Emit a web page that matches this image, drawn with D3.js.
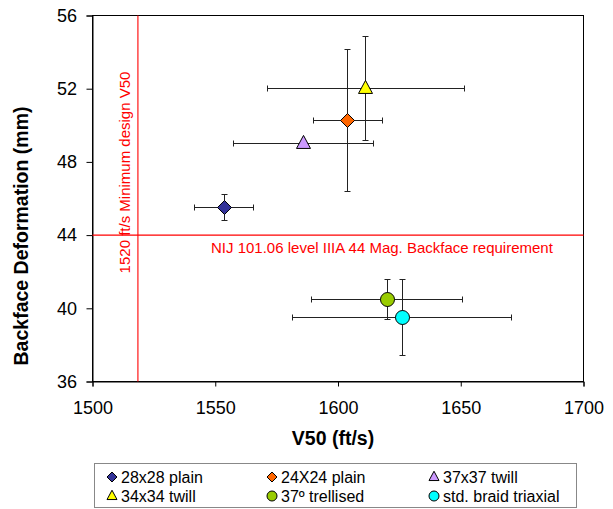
<!DOCTYPE html>
<html><head><meta charset="utf-8">
<script src="https://cdn.jsdelivr.net/npm/d3@7"></script>
<style>
html,body{margin:0;padding:0;background:#fff;}
svg{display:block;font-family:"Liberation Sans",Arial,sans-serif;}
</style></head>
<body>
<svg id="chart" width="613" height="509"></svg>
<script>
const seriesNames = ["28x28 plain","24X24 plain","37x37 twill","34x34 twill","37º trellised","std. braid triaxial"];
const v50 = [1553.6, 1604.0, 1586.0, 1611.4, 1620.0, 1626.1];
const v50Err = [12, 14, 28.5, 40, 30.8, 44.7];
const backface = [45.5, 50.25, 49.0, 52.0, 40.5, 39.5];
const backfaceErr = [0.7, 3.87, 0, 2.84, 1.1, 2.1];
const markerShapes = ["diamond","diamond","triangle","triangle","circle","circle"];
const markerColors = ["#333399","#FF6600","#CC99FF","#FFFF00","#99CC00","#00FFFF"];
const xTicks = [1500,1550,1600,1650,1700];
const yTicks = [36,40,44,48,52,56];
const minV50Line = 1518.5;
const nijReq = 44;
const xTitle = "V50 (ft/s)";
const yTitle = "Backface Deformation (mm)";
const vLabel = "1520 ft/s Minimum design V50";
const hLabel = "NIJ 101.06 level IIIA 44 Mag. Backface requirement";

const svg = d3.select("#chart");
const L = 92.5, R = 583.5, T = 15.5, B = 381.5;
const x = d3.scaleLinear().domain([1500,1700]).range([L,R]);
const y = d3.scaleLinear().domain([36,56]).range([B,T]);
const crisp = v => Math.round(v - 0.5) + 0.5;

function symbolPath(shape, size){
  if(shape==="diamond"){const h=size/2;return `M0,${-h}L${h},0L0,${h}L${-h},0Z`;}
  if(shape==="triangle"){const h=size*0.93;const w=size/2;return `M0,${-h*0.62}L${w},${h*0.38}L${-w},${h*0.38}Z`;}
  return null;
}

// frame
svg.append("rect").attr("x",L).attr("y",T).attr("width",R-L).attr("height",B-T)
  .attr("fill","none").attr("stroke","#000").attr("stroke-width",1);

// axes
const xAxis = svg.append("g").attr("transform",`translate(0,${B})`)
  .call(d3.axisBottom(x).tickValues(xTicks).tickSize(5).tickPadding(15).tickFormat(d3.format("d")));
const yAxis = svg.append("g").attr("transform",`translate(${L},0)`)
  .call(d3.axisLeft(y).tickValues(yTicks).tickSize(6).tickPadding(9.5).tickFormat(d3.format("d")));
[xAxis,yAxis].forEach(g=>{
  g.select(".domain").attr("stroke","#000");
  g.selectAll(".tick line").attr("stroke","#000");
  g.selectAll(".tick text").attr("font-size","18px").attr("fill","#000")
    .attr("font-family","'Liberation Sans',Arial,sans-serif");
});

// reference lines
const rx = x(minV50Line), ry = y(nijReq);
svg.append("line").attr("x1",rx).attr("x2",rx).attr("y1",T).attr("y2",B)
  .attr("stroke","#FF0000").attr("stroke-width",1.1);
svg.append("line").attr("x1",L).attr("x2",R).attr("y1",ry).attr("y2",ry)
  .attr("stroke","#FF0000").attr("stroke-width",1.1);
svg.append("text").attr("transform",`translate(${rx-8},${172.5}) rotate(-90)`)
  .attr("text-anchor","middle").attr("font-size","15px").attr("fill","#FF0000").text(vLabel);
svg.append("text").attr("x",211).attr("y",252.5)
  .attr("font-size","15px").attr("fill","#FF0000").text(hLabel);

// error bars
const cap = 3;
const eb = svg.append("g").attr("stroke","#222").attr("stroke-width",1).attr("fill","none");
seriesNames.forEach((n,i)=>{
  const cx=crisp(x(v50[i])), cy=crisp(y(backface[i]));
  const x0=crisp(x(v50[i]-v50Err[i])), x1=crisp(x(v50[i]+v50Err[i]));
  eb.append("line").attr("x1",x0).attr("x2",x1).attr("y1",cy).attr("y2",cy);
  eb.append("line").attr("x1",x0).attr("x2",x0).attr("y1",cy-cap).attr("y2",cy+cap);
  eb.append("line").attr("x1",x1).attr("x2",x1).attr("y1",cy-cap).attr("y2",cy+cap);
  if(backfaceErr[i]>0){
    const y0=crisp(y(backface[i]-backfaceErr[i])), y1=crisp(y(backface[i]+backfaceErr[i]));
    eb.append("line").attr("x1",cx).attr("x2",cx).attr("y1",y0).attr("y2",y1);
    eb.append("line").attr("x1",cx-cap).attr("x2",cx+cap).attr("y1",y0).attr("y2",y0);
    eb.append("line").attr("x1",cx-cap).attr("x2",cx+cap).attr("y1",y1).attr("y2",y1);
  }
});

function drawMarker(g, shape, color, cx, cy, size){
  if(shape==="circle"){
    g.append("circle").attr("cx",cx).attr("cy",cy).attr("r",size/2)
      .attr("fill",color).attr("stroke","#000").attr("stroke-width",1);
  } else {
    g.append("path").attr("d",symbolPath(shape,size)).attr("transform",`translate(${cx},${cy})`)
      .attr("fill",color).attr("stroke","#000").attr("stroke-width",1);
  }
}
const mk = svg.append("g");
seriesNames.forEach((n,i)=>{
  drawMarker(mk, markerShapes[i], markerColors[i], crisp(x(v50[i])), crisp(y(backface[i])), 14);
});

// axis titles
svg.append("text").attr("x",333).attr("y",445).attr("text-anchor","middle")
  .attr("font-size","19.5px").attr("font-weight","bold").text(xTitle);
svg.append("text").attr("transform",`translate(28,236) rotate(-90)`)
  .attr("text-anchor","middle").attr("font-size","19.5px").attr("font-weight","bold").text(yTitle);

// legend
svg.append("rect").attr("x",94.5).attr("y",463.5).attr("width",482).attr("height",44)
  .attr("fill","#fff").attr("stroke","#888").attr("stroke-width",1);
const colX = [112, 272, 434];
const rowY = [477, 496];
seriesNames.forEach((n,i)=>{
  const cx = colX[i%3], cy = rowY[Math.floor(i/3)];
  drawMarker(svg, markerShapes[i], markerColors[i], cx, cy, 10);
  svg.append("text").attr("x",cx+9).attr("y",cy+5.5).attr("font-size","16px").text(n);
});
</script>
</body></html>
